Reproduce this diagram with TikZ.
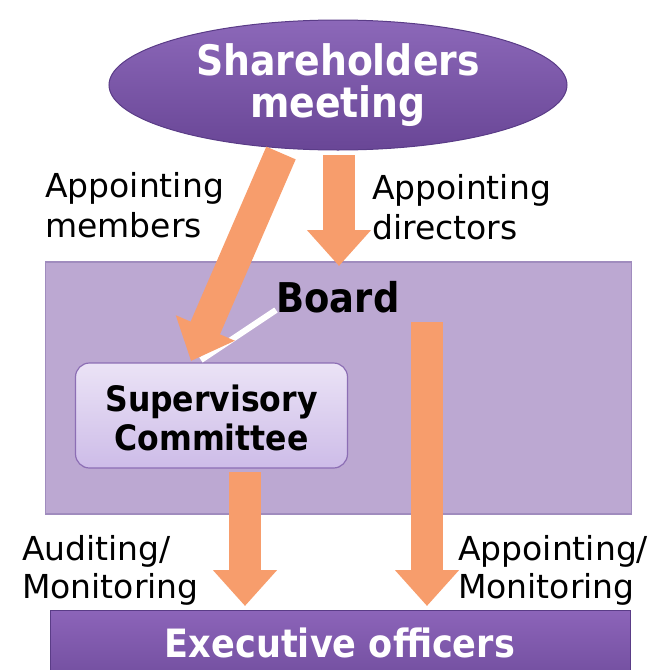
\documentclass[tikz,border=0pt]{standalone}
\usepackage{fontspec}
\setmainfont{DejaVu Sans}
\newfontfamily\boldcond[FakeStretch=0.9]{DejaVu Sans}
\usetikzlibrary{arrows.meta,shapes.geometric}
\definecolor{orng}{RGB}{247,157,108}
\definecolor{boardc}{RGB}{188,168,210}
\definecolor{boardedge}{RGB}{160,140,190}
\definecolor{ellTop}{RGB}{140,104,185}
\definecolor{ellBot}{RGB}{105,70,150}
\definecolor{ellEdge}{RGB}{90,60,135}
\definecolor{supTop}{RGB}{235,227,246}
\definecolor{supBot}{RGB}{205,188,232}
\definecolor{supEdge}{RGB}{140,110,180}
\definecolor{exTop}{RGB}{140,100,185}
\definecolor{exBot}{RGB}{110,75,155}
\tikzset{
  bigarrow/.style={draw=orng, line width=32pt, -{Triangle[length=36pt,width=62pt,fill=orng]}},
  lbl/.style={font=\fontsize{33}{40}\selectfont, align=left, text=black, inner sep=0pt},
}
\begin{document}
\begin{tikzpicture}[x=1pt,y=-1pt]
\useasboundingbox (0,0) rectangle (652,670);
% Board
\node[draw=boardedge, line width=1.5pt, fill=boardc, minimum width=586pt, minimum height=252pt, inner sep=0pt] (board) at (338.5,388) {};
\node[font=\boldcond\bfseries\fontsize{41}{41}\selectfont, inner sep=0pt, anchor=base] (boardlbl) at (338,312) {Board};
% Executive officers
\node[top color=exTop, bottom color=exBot, draw=ellEdge, line width=0.8pt, minimum width=580pt, minimum height=80pt, inner sep=0pt, anchor=north] (exec) at (340,610) {};
\node[font=\boldcond\bfseries\fontsize{39}{39}\selectfont, text=white, inner sep=0pt, anchor=base] (execlbl) at (340,657) {Executive officers};
% Shareholders meeting
\node[ellipse, top color=ellTop, bottom color=ellBot, draw=ellEdge, line width=1pt, minimum width=458pt, minimum height=130pt, inner sep=0pt] (share) at (338,85) {};
\node[font=\boldcond\bfseries\fontsize{42}{42}\selectfont, text=white, inner sep=0pt, anchor=base] (sharelbl1) at (338,75) {Shareholders};
\node[font=\boldcond\bfseries\fontsize{42}{42}\selectfont, text=white, inner sep=0pt, anchor=base] (sharelbl2) at (338,117) {meeting};
% Supervisory committee
\node[rounded corners=14pt, top color=supTop, bottom color=supBot, draw=supEdge, line width=1.2pt, minimum width=272pt, minimum height=105pt, inner sep=0pt] (sup) at (211.5,415.5) {};
\node[font=\boldcond\bfseries\fontsize{35}{35}\selectfont, inner sep=0pt, anchor=base] (suplbl1) at (211.5,411) {Supervisory};
\node[font=\boldcond\bfseries\fontsize{35}{35}\selectfont, inner sep=0pt, anchor=base] (suplbl2) at (211.5,450) {Committee};
% callout line
\coordinate (callA) at (276,310);
\coordinate (callB) at (201,360);
\draw[white, line width=6pt] (callA) -- (callB);
% arrows
\coordinate (a1s) at (281,153);
\coordinate (a1e) at (191,361);
\coordinate (a2s) at (339,155);
\coordinate (a2e) at (339,266);
\coordinate (a3s) at (245,472);
\coordinate (a3e) at (245,606);
\coordinate (a4s) at (427,322);
\coordinate (a4e) at (427,606);
\draw[bigarrow] (a1s) -- (a1e);
\draw[bigarrow] (a2s) -- (a2e);
\draw[bigarrow] (a3s) -- (a3e);
\draw[bigarrow] (a4s) -- (a4e);
% labels
\node[lbl, anchor=base west] (l1a) at (45,197) {Appointing};
\node[lbl, anchor=base west] (l1b) at (45,237) {members};
\node[lbl, anchor=base west] (l2a) at (372,199) {Appointing};
\node[lbl, anchor=base west] (l2b) at (372,239) {directors};
\node[lbl, anchor=base west] (l3a) at (22,560) {Auditing/};
\node[lbl, anchor=base west] (l3b) at (22,598) {Monitoring};
\node[lbl, anchor=base west] (l4a) at (458,560) {Appointing/};
\node[lbl, anchor=base west] (l4b) at (458,598) {Monitoring};
\end{tikzpicture}
\end{document}
